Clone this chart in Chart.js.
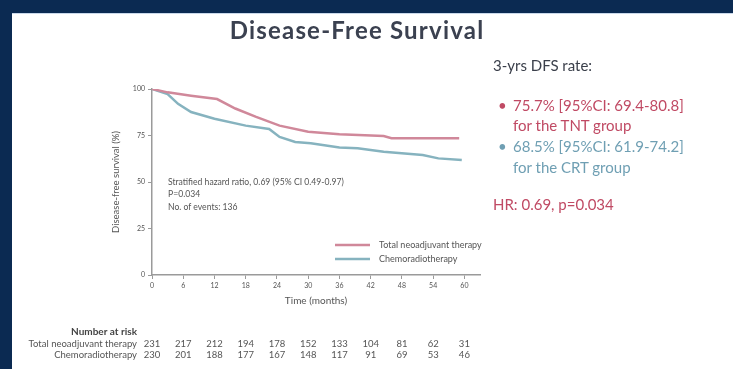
<!DOCTYPE html>
<html>
<head>
<meta charset="utf-8">
<script src="https://cdn.jsdelivr.net/npm/chart.js@4.4.1/dist/chart.umd.min.js"></script>
<style>
  html, body { margin: 0; padding: 0; }
  body { width: 733px; height: 369px; background: #0b2a52; position: relative; overflow: hidden; font-family: Lato, "Open Sans", sans-serif; }
  #slide { position: absolute; left: 12px; top: 13px; width: 721px; height: 356px; background: #ffffff; border-top: 1px solid #c9d8ea; box-sizing: border-box; }
  #km { position: absolute; left: 0; top: 0; }
  .txt { position: absolute; white-space: nowrap; }
  #title { left: 0; width: 714px; top: 16px; text-align: center; font-weight: 700; font-size: 24px; letter-spacing: 1.2px; color: #3b4150; line-height: 28px; }
  #rates { left: 493px; top: 55px; font-size: 15px; line-height: 20.7px; color: #3a3f4a; }
  #rates .b { display: inline-block; width: 20px; text-align: left; padding-left: 5px; box-sizing: border-box; }
  .tnt { color: #c04a64; }
  .crt { color: #6f9fb3; }
  #hr { left: 493px; top: 195px; font-size: 15px; color: #c04a64; }
  #note { left: 168px; top: 176px; font-size: 8.6px; line-height: 12.4px; color: #555; }
</style>
</head>
<body>
<div id="slide"></div>
<canvas id="km" width="733" height="369"></canvas>
<div class="txt" id="title">Disease-Free Survival</div>
<div class="txt" id="rates">
  <div>3-yrs DFS rate:</div>
  <div style="height:19px"></div>
  <div class="tnt"><span class="b">•</span>75.7% [95%CI: 69.4-80.8]</div>
  <div class="tnt"><span class="b"></span>for the TNT group</div>
  <div class="crt"><span class="b">•</span>68.5% [95%CI: 61.9-74.2]</div>
  <div class="crt"><span class="b"></span>for the CRT group</div>
</div>
<div class="txt" id="hr">HR: 0.69, p=0.034</div>
<div class="txt" id="note">Stratified hazard ratio, 0.69 (95% CI 0.49-0.97)<br>P=0.034<br>No. of events: 136</div>
<script>
// Kaplan-Meier estimates, disease-free survival (%) by month
const tntMonths = [0, 3, 7.5, 12.5, 16, 20, 24.5, 30, 36, 44.5, 46, 59];
const tntSurvival = [100, 98.2, 96.4, 94.6, 89.5, 85, 80.3, 77, 75.7, 74.7, 73.5, 73.5];
const crtMonths = [0, 3, 5, 7.5, 12, 18, 22.5, 24.5, 27.5, 30.5, 36, 39.5, 44.5, 52, 55, 59.5];
const crtSurvival = [100, 97.3, 92, 87.6, 84, 80.3, 78.5, 74.2, 71.5, 70.8, 68.5, 68.1, 66.3, 64.5, 62.7, 61.8];

// Number at risk table
const riskMonths = [0, 6, 12, 18, 24, 30, 36, 42, 48, 54, 60];
const tntAtRisk = [231, 217, 212, 194, 178, 152, 133, 104, 81, 62, 31];
const crtAtRisk = [230, 201, 188, 177, 167, 148, 117, 91, 69, 53, 46];

const groupNames = ['Total neoadjuvant therapy', 'Chemoradiotherapy'];
const groupColors = ['#d0889a', '#86b3bf'];

const toPoints = (xs, ys) => xs.map((x, i) => ({ x, y: ys[i] }));

const axisGray = '#9a9a9a';
const tickFont = { family: 'Lato, sans-serif', size: 7 };

const insideLegend = {
  id: 'insideLegend',
  afterDatasetsDraw(chart) {
    const { ctx } = chart;
    const x0 = 335, x1 = 370, tx = 379, ys = [245, 259];
    ctx.save();
    chart.data.datasets.forEach((ds, i) => {
      ctx.strokeStyle = ds.borderColor;
      ctx.lineWidth = 2.5;
      ctx.beginPath();
      ctx.moveTo(x0, ys[i]);
      ctx.lineTo(x1, ys[i]);
      ctx.stroke();
      ctx.fillStyle = '#555';
      ctx.font = '9px Lato, sans-serif';
      ctx.textBaseline = 'middle';
      ctx.textAlign = 'left';
      ctx.fillText(ds.label, tx, ys[i]);
    });
    ctx.restore();
  }
};

const riskTable = {
  id: 'riskTable',
  afterDraw(chart) {
    const { ctx } = chart;
    const xs = chart.scales.x;
    const rows = [tntAtRisk, crtAtRisk];
    const rowY = [344, 355];
    ctx.save();
    ctx.textBaseline = 'middle';
    ctx.fillStyle = '#444';
    ctx.font = 'bold 10px Lato, sans-serif';
    ctx.textAlign = 'right';
    ctx.fillText('Number at risk', 137, 332);
    ctx.font = '9.5px Lato, sans-serif';
    rows.forEach((vals, r) => {
      ctx.textAlign = 'right';
      ctx.fillStyle = '#555';
      ctx.fillText(groupNames[r], 137, rowY[r]);
      ctx.textAlign = 'center';
      vals.forEach((v, i) => {
        ctx.fillText(String(v), xs.getPixelForValue(riskMonths[i]), rowY[r]);
      });
    });
    ctx.restore();
  }
};

new Chart(document.getElementById('km'), {
  type: 'line',
  data: {
    datasets: [
      { label: groupNames[0], data: toPoints(tntMonths, tntSurvival), borderColor: groupColors[0], borderWidth: 2.5, pointRadius: 0, tension: 0, fill: false },
      { label: groupNames[1], data: toPoints(crtMonths, crtSurvival), borderColor: groupColors[1], borderWidth: 2.5, pointRadius: 0, tension: 0, fill: false }
    ]
  },
  options: {
    responsive: false,
    devicePixelRatio: 1,
    animation: false,
    layout: { padding: { left: 100, right: 253, top: 89, bottom: 62 } },
    plugins: { legend: { display: false }, tooltip: { enabled: false } },
    scales: {
      x: {
        type: 'linear', min: 0, max: 63,
        afterBuildTicks(s) { s.ticks = s.ticks.filter(t => t.value % 6 === 0); },
        afterFit(s) { s.height = 32; },
        ticks: { stepSize: 6, font: tickFont, color: '#555', padding: 3, maxRotation: 0 },
        grid: { drawOnChartArea: false, drawTicks: true, tickLength: 4, color: axisGray },
        border: { color: axisGray, width: 1.5 },
        title: { display: true, text: 'Time (months)', font: { family: 'Lato, sans-serif', size: 10 }, color: '#555', padding: { top: 5, bottom: 0 } }
      },
      y: {
        min: 0, max: 100,
        afterFit(s) { s.width = 52; },
        ticks: { stepSize: 25, font: tickFont, color: '#555', padding: 3 },
        grid: { drawOnChartArea: false, drawTicks: true, tickLength: 4, color: axisGray },
        border: { color: axisGray, width: 1.5 },
        title: { display: true, text: 'Disease-free survival (%)', font: { family: 'Lato, sans-serif', size: 9.5 }, color: '#555', padding: { top: 10, bottom: 0 } }
      }
    }
  },
  plugins: [insideLegend, riskTable]
});
</script>
</body>
</html>
